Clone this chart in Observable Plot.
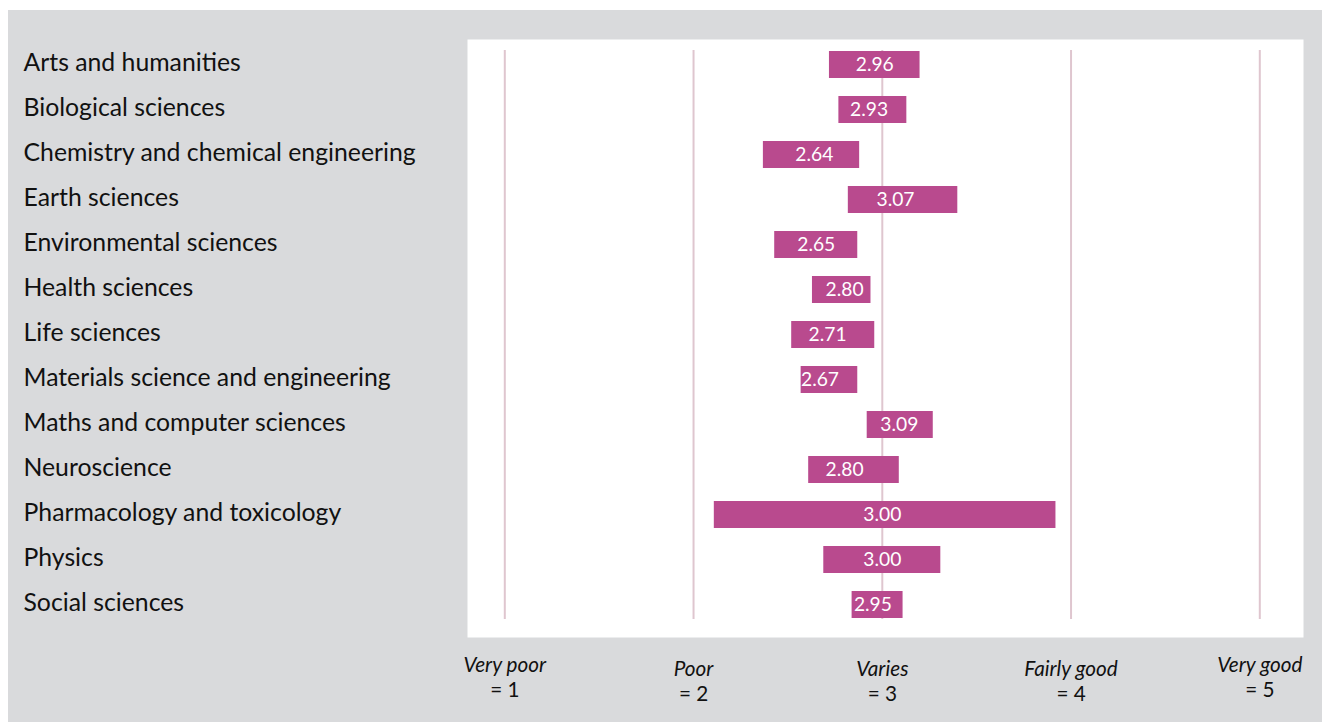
<!DOCTYPE html>
<html><head><meta charset="utf-8">
<script src="https://cdn.jsdelivr.net/npm/d3@7"></script>
<script src="https://cdn.jsdelivr.net/npm/@observablehq/plot@0.6"></script>
<style>
html,body{margin:0;padding:0;background:#ffffff;}
#wrap{position:relative;width:1322px;height:722px;overflow:hidden;}
#bg{position:absolute;left:8px;top:10px;right:0;bottom:0;background:#d9dadc;}
#chart{position:absolute;left:0;top:0;}
</style></head><body>
<div id="wrap"><div id="bg"></div><div id="chart"></div></div>
<script>
// ---- data ----
const categories = [
  "Arts and humanities",
  "Biological sciences",
  "Chemistry and chemical engineering",
  "Earth sciences",
  "Environmental sciences",
  "Health sciences",
  "Life sciences",
  "Materials science and engineering",
  "Maths and computer sciences",
  "Neuroscience",
  "Pharmacology and toxicology",
  "Physics",
  "Social sciences"
];
const lowValues  = [2.72, 2.77, 2.37, 2.82, 2.43, 2.63, 2.52, 2.57, 2.92, 2.61, 2.11, 2.69, 2.84];
const highValues = [3.20, 3.13, 2.88, 3.40, 2.87, 2.94, 2.96, 2.87, 3.27, 3.09, 3.92, 3.31, 3.11];
const meanValues = [2.96, 2.93, 2.64, 3.07, 2.65, 2.80, 2.71, 2.67, 3.09, 2.80, 3.00, 3.00, 2.95];
const scaleValues = [1, 2, 3, 4, 5];
const scaleNames  = ["Very poor", "Poor", "Varies", "Fairly good", "Very good"];
const scaleCodes  = ["= 1", "= 2", "= 3", "= 4", "= 5"];

// ---- tables built from the arrays ----
const rows = categories.map((c, i) => ({category: c, lo: lowValues[i], hi: highValues[i], mean: meanValues[i]}));
const ticks = scaleValues.map((v, i) => ({value: v, name: scaleNames[i], code: scaleCodes[i]}));
const tickEnds = ticks.filter(t => t.value === 1 || t.value === 5);
const tickMids = ticks.filter(t => t.value !== 1 && t.value !== 5);

// ---- font sizing to match reference text widths ----
const family = "Lato, 'Open Sans', sans-serif";
const ctx = document.createElement("canvas").getContext("2d");
function fit(text, target, style) {
  ctx.font = `${style || ""} 100px Lato`;
  return 100 * target / ctx.measureText(text).width;
}
const catSize  = fit("Chemistry and chemical engineering", 393);
const tickSize = fit("Fairly good", 94, "italic");
const barSize  = fit("2.96", 38);

const W = 1322, H = 722;
const frameLeft = 467, frameRight = 1303, frameTop = 39, frameBottom = 637;

const chart = Plot.plot({
  width: W,
  height: H,
  marginLeft: frameLeft,
  marginRight: W - frameRight,
  marginTop: frameTop,
  marginBottom: H - frameBottom,
  style: {background: "transparent", fontFamily: family, overflow: "visible"},
  x: {domain: [1, 5], insetLeft: 37.3, insetRight: 43.7, axis: null},
  y: {domain: categories, insetTop: 2, insetBottom: 9.7, paddingInner: 0.4, paddingOuter: 0.2, align: 0.5, axis: null},
  marks: [
    Plot.frame({fill: "#ffffff", stroke: null}),
    Plot.ruleX(scaleValues, {x: d => d, stroke: "#dfc6cf", strokeWidth: 2, insetTop: 11, insetBottom: 18}),
    Plot.barX(rows, {y: "category", x1: "lo", x2: "hi", fill: "#b94a8e"}),
    Plot.text(rows, {y: "category", x: "mean", text: d => d.mean.toFixed(2), fill: "#ffffff", fontSize: barSize, textAnchor: "middle"}),
    Plot.text(rows, {y: "category", text: "category", frameAnchor: "left", textAnchor: "start", dx: 23 - frameLeft, dy: -1.5, fill: "#111111", fontSize: catSize}),
    Plot.text(tickEnds, {x: "value", text: "name", frameAnchor: "bottom", lineAnchor: "bottom", dy: 34.7, fontStyle: "italic", fontSize: tickSize, fill: "#111111"}),
    Plot.text(tickEnds, {x: "value", text: "code", frameAnchor: "bottom", lineAnchor: "bottom", dy: 59, fontSize: tickSize, fill: "#111111"}),
    Plot.text(tickMids, {x: "value", text: "name", frameAnchor: "bottom", lineAnchor: "bottom", dy: 38, fontStyle: "italic", fontSize: tickSize, fill: "#111111"}),
    Plot.text(tickMids, {x: "value", text: "code", frameAnchor: "bottom", lineAnchor: "bottom", dy: 63.5, fontSize: tickSize, fill: "#111111"})
  ]
});
document.getElementById("chart").appendChild(chart);
</script>
</body></html>
